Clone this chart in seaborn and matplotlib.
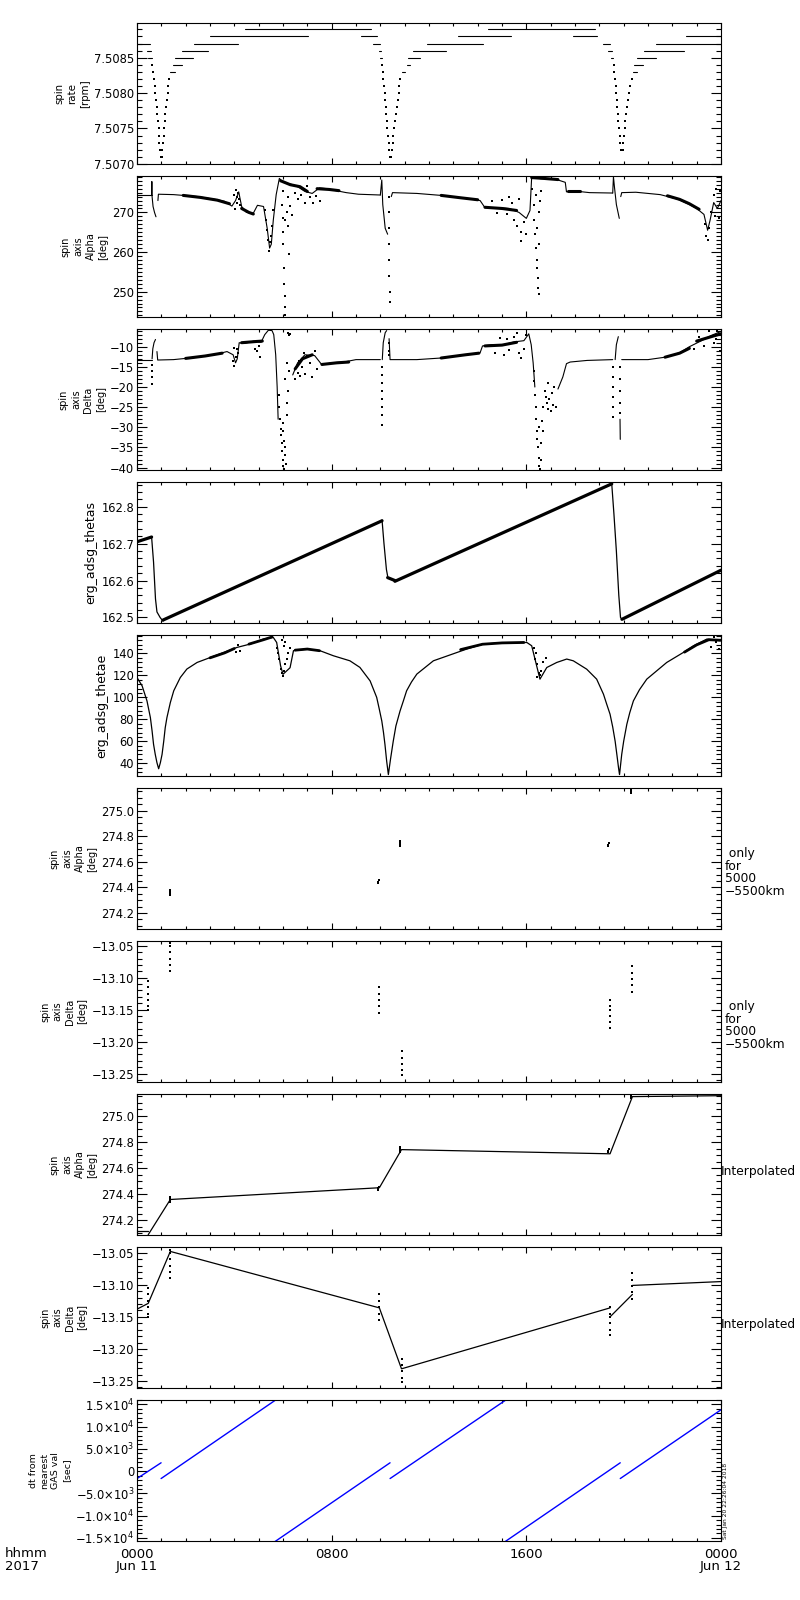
import matplotlib
matplotlib.use("Agg")
import matplotlib.pyplot as plt
import pandas as pd
import seaborn as sns
from matplotlib.ticker import MultipleLocator, FixedLocator, FixedFormatter, FuncFormatter

# ===================== DATA (time in hours since 2017-06-11 00:00) =====================
# ---- Panel 1: spin rate [rpm]; quantised plateau segments ----
rate_seg_start = [0.00, 0.40, 0.45, 1.34, 1.49, 1.56, 1.84, 2.34, 3.00, 4.44,
                  9.21, 9.71, 9.93, 9.99, 10.88, 11.08, 11.15, 11.33, 11.91, 13.18, 14.41,
                  17.91, 19.17, 19.37, 19.47, 20.37, 20.44, 20.54, 20.85, 21.33, 22.55]
rate_seg_end = [0.55, 0.58, 0.62, 1.56, 1.84, 2.29, 2.93, 4.14, 7.04, 9.62,
                9.85, 9.99, 10.02, 10.06, 11.02, 11.22, 11.63, 12.69, 14.21, 15.37, 18.83,
                18.90, 19.44, 19.51, 19.58, 20.56, 20.81, 21.33, 22.48, 24.00, 24.00]
rate_seg_level = [7.5087, 7.5086, 7.5085, 7.5083, 7.5084, 7.5085, 7.5086, 7.5087, 7.5088, 7.5089,
                  7.5088, 7.5087, 7.5086, 7.5085, 7.5083, 7.5084, 7.5085, 7.5086, 7.5087, 7.5088, 7.5089,
                  7.5088, 7.5087, 7.5086, 7.5085, 7.5083, 7.5084, 7.5085, 7.5086, 7.5087, 7.5088]
# perigee dips (single samples)
rate_dip_t = [0.60, 0.67, 0.70, 0.74, 0.75, 0.78, 0.81, 0.84, 0.86, 0.89, 0.90, 0.92, 0.95, 0.99,
              1.01, 1.04, 1.08, 1.10, 1.11, 1.14, 1.15, 1.18, 1.22, 1.26, 1.29, 1.33,
              10.07, 10.10, 10.13, 10.15, 10.18, 10.19, 10.22, 10.25, 10.28, 10.29, 10.32, 10.34, 10.37, 10.40,
              10.44, 10.47, 10.51, 10.54, 10.56, 10.60, 10.63, 10.67, 10.71, 10.75, 10.78, 10.81,
              19.59, 19.62, 19.65, 19.67, 19.70, 19.73, 19.74, 19.77, 19.78, 19.81, 19.84, 19.86, 19.89,
              19.96, 19.99, 20.02, 20.04, 20.07, 20.10, 20.13, 20.17, 20.21, 20.26, 20.33]
rate_dip_v = [7.5084, 7.5083, 7.5082, 7.5081, 7.5080, 7.5079, 7.5078, 7.5077, 7.5076, 7.5075, 7.5074, 7.5073, 7.5072, 7.5071,
              7.5071, 7.5072, 7.5073, 7.5074, 7.5075, 7.5076, 7.5077, 7.5078, 7.5079, 7.5080, 7.5081, 7.5082,
              7.5084, 7.5083, 7.5082, 7.5081, 7.5080, 7.5079, 7.5078, 7.5077, 7.5076, 7.5075, 7.5074, 7.5073, 7.5072, 7.5071,
              7.5071, 7.5072, 7.5073, 7.5074, 7.5075, 7.5076, 7.5077, 7.5078, 7.5079, 7.5080, 7.5081, 7.5082,
              7.5084, 7.5083, 7.5082, 7.5081, 7.5080, 7.5079, 7.5078, 7.5077, 7.5076, 7.5075, 7.5074, 7.5073, 7.5072,
              7.5072, 7.5073, 7.5074, 7.5075, 7.5076, 7.5077, 7.5078, 7.5079, 7.5080, 7.5081, 7.5082]

# ---- Panel 2: spin axis Alpha [deg] ----
alpha_trace = [
    ([0.00, 0.60], [274.4, 274.4]),
    ([0.60, 0.61, 0.62, 0.66, 0.72, 0.78], [274.4, 277.8, 274.0, 271.5, 270.0, 268.9]),
    ([0.86, 0.88, 1.50, 2.50, 3.30, 3.60, 3.90, 4.05, 4.18, 4.30, 4.50, 4.78, 4.95, 5.20, 5.35, 5.45,
      5.52, 5.60, 5.72, 5.85, 6.00, 6.30, 6.60, 6.90, 7.20, 7.50, 7.80, 8.10, 8.60, 9.10, 10.00],
     [273.0, 274.6, 274.5, 274.0, 273.2, 272.8, 271.6, 273.0, 275.2, 271.5, 270.0, 269.8, 271.8, 271.5, 266.0, 261.0,
      262.0, 268.0, 274.5, 278.6, 277.6, 277.2, 276.5, 275.3, 274.8, 276.2, 276.0, 275.6, 275.0, 274.6, 274.4]),
    ([10.00, 10.06, 10.10, 10.20, 10.30], [274.4, 278.2, 272.0, 266.0, 264.5]),
    ([10.45, 10.50, 11.50, 12.50, 13.50, 14.10, 14.30, 14.80, 15.30, 15.70, 16.00, 16.15, 16.22, 16.60,
      17.20, 17.60, 17.65, 18.00, 18.60, 19.55],
     [274.0, 275.0, 274.8, 274.3, 273.6, 273.0, 271.2, 271.2, 271.0, 270.0, 268.5, 270.5, 279.0, 278.5,
      278.4, 277.6, 275.2, 275.4, 275.0, 274.9]),
    ([19.55, 19.58, 19.62, 19.70, 19.82], [274.9, 279.0, 276.5, 272.0, 268.5]),
    ([19.88, 19.92, 20.50, 21.50, 22.20, 22.70, 23.00, 23.30, 23.45, 23.55, 23.70, 23.85, 24.00],
     [274.0, 275.0, 275.1, 274.5, 273.4, 272.0, 271.0, 269.5, 265.5, 268.0, 272.5, 271.0, 273.0]),
]
alpha_band = [
    ([1.9, 2.6, 3.3, 3.8], [274.3, 273.8, 273.1, 272.2]),
    ([4.3, 4.6, 4.78], [271.0, 270.0, 269.6]),
    ([5.9, 6.3, 6.7, 7.0], [278.0, 277.0, 276.5, 275.3]),
    ([7.4, 7.9, 8.3], [276.0, 275.8, 275.5]),
    ([12.5, 13.3, 14.0], [274.3, 273.7, 273.2]),
    ([14.3, 15.0, 15.6], [271.3, 271.0, 270.5]),
    ([16.22, 16.7, 17.3], [278.8, 278.6, 278.3]),
    ([17.7, 18.2], [275.3, 275.3]),
    ([21.8, 22.3, 22.7, 23.1], [274.2, 273.3, 272.2, 270.8]),
]
alpha_dot_t = [4.00, 4.05, 4.10, 4.12, 4.15, 4.20, 4.25, 4.02,
               5.30, 5.35, 5.40, 5.42, 5.46, 5.50, 5.55, 5.25, 5.60,
               5.95, 5.98, 6.00, 6.02, 6.04, 6.05, 6.07, 6.08, 6.10, 6.10, 6.15, 6.20, 6.25, 6.30, 6.35, 6.00, 6.20,
               6.50, 6.60, 6.75, 6.90, 7.00, 7.10, 7.25, 7.35, 7.50,
               10.35, 10.35, 10.36, 10.36, 10.37, 10.37, 10.38, 10.38,
               14.60, 14.80, 15.00, 15.20, 15.40, 15.50, 15.60, 15.70, 15.80, 15.90, 16.00, 15.30, 15.80,
               16.25, 16.30, 16.33, 16.36, 16.40, 16.42, 16.45, 16.47, 16.48, 16.50, 16.45, 16.50, 16.55, 16.60, 16.40, 16.52,
               23.35, 23.40, 23.45, 23.50, 23.60, 23.70, 23.80, 23.90, 23.95, 23.75]
alpha_dot_v = [274.5, 275.6, 274.0, 272.5, 275.0, 273.3, 272.0, 270.9,
               268.0, 265.5, 263.0, 260.3, 262.5, 264.0, 266.5, 270.5, 270.5,
               272.0, 268.5, 265.0, 262.0, 256.0, 252.0, 249.0, 246.0, 244.2, 268.0, 270.0, 266.5, 259.5, 271.5, 269.3, 275.5, 274.0,
               275.0, 273.5, 274.5, 272.5, 276.8, 273.8, 272.4, 274.2, 273.0,
               274.0, 270.0, 266.0, 262.0, 258.0, 254.0, 250.0, 247.5,
               272.8, 269.8, 273.2, 269.5, 272.5, 268.0, 266.5, 273.5, 265.0, 267.5, 264.5, 274.0, 262.8,
               276.0, 272.0, 268.0, 264.5, 261.0, 258.0, 256.0, 253.5, 251.0, 249.5, 266.0, 270.0, 273.0, 275.5, 274.5, 262.0,
               267.0, 264.0, 263.0, 266.0, 270.0, 274.5, 276.0, 268.5, 275.5, 269.0]

# ---- Panel 3: spin axis Delta [deg] ----
delta_trace = [
    ([0.00, 0.60], [-13.2, -13.2]),
    ([0.62, 0.65, 0.70, 0.76], [-13.0, -10.5, -9.0, -8.2]),
    ([0.82, 0.85, 1.50, 2.50, 3.30, 3.70, 3.95, 4.05, 4.12, 4.20, 4.40, 4.80, 5.10, 5.25, 5.40, 5.55,
      5.62, 5.70, 5.76, 5.80],
     [-11.2, -13.3, -13.2, -12.6, -11.8, -11.2, -12.0, -14.0, -13.0, -9.0, -9.2, -8.6, -8.9, -7.0, -5.9, -6.0,
      -7.0, -12.0, -20.0, -28.0]),
    ([6.40, 6.60, 6.90, 7.30, 7.60, 8.00, 8.50, 9.00, 10.00],
     [-17.0, -14.0, -12.0, -12.2, -14.5, -14.0, -13.8, -13.2, -13.2]),
    ([10.08, 10.12, 10.20, 10.26], [-13.2, -9.0, -6.5, -6.0]),
    ([10.36, 10.40, 11.50, 12.50, 13.50, 14.10, 14.20, 14.60, 15.00, 15.50, 15.90, 16.10, 16.20, 16.28, 16.35],
     [-8.0, -13.2, -13.2, -12.8, -12.0, -11.5, -9.8, -9.5, -9.6, -8.8, -8.5, -6.8, -9.5, -14.0, -20.0]),
    ([17.30, 17.50, 17.65, 17.80, 18.50, 19.55], [-20.5, -17.5, -14.2, -13.8, -13.4, -13.2]),
    ([19.65, 19.70, 19.78], [-13.2, -9.5, -7.5]),
    ([19.85, 19.86], [-28.0, -33.0]),
    ([19.92, 21.00, 21.70, 22.30, 22.70, 23.20, 23.60, 24.00],
     [-13.2, -13.2, -12.6, -11.5, -10.0, -8.5, -7.2, -6.2]),
]
delta_band = [
    ([2.0, 2.8, 3.5], [-12.9, -12.3, -11.6]),
    ([4.3, 4.9, 5.15], [-9.0, -8.7, -8.6]),
    ([6.5, 6.8, 7.2], [-15.5, -13.0, -12.0]),
    ([7.6, 8.2, 8.7], [-14.4, -14.0, -13.8]),
    ([12.5, 13.5, 14.05], [-12.8, -12.0, -11.6]),
    ([14.3, 15.0, 15.6], [-9.8, -9.6, -8.9]),
    ([21.7, 22.3, 22.7], [-12.6, -11.6, -10.4]),
    ([23.0, 23.6, 24.0], [-8.6, -7.5, -6.8]),
]
delta_dot_t = [0.61, 0.61, 0.61, 0.61,
               3.95, 4.00, 4.05, 4.10, 4.15, 4.00,
               4.85, 4.95, 5.05, 5.00,
               5.82, 5.85, 5.88, 5.90, 5.92, 5.95, 5.97, 6.00, 6.02, 6.05, 6.08, 6.10, 6.12, 5.98, 6.05, 6.00,
               6.15, 6.18, 6.20, 6.10, 6.25, 6.15, 6.22, 6.25, 6.28,
               6.50, 6.60, 6.70, 6.80, 6.90, 7.00, 7.10, 7.20, 7.30, 7.40, 6.85, 6.65,
               10.05, 10.05, 10.05, 10.06, 10.06, 10.06, 10.07, 10.07,
               10.34, 10.35, 10.36,
               14.70, 14.90, 15.10, 15.30, 15.50, 15.70, 15.80, 15.90, 16.00, 15.60, 15.20,
               16.30, 16.32, 16.35, 16.38, 16.40, 16.42, 16.45, 16.47, 16.50, 16.52, 16.55, 16.60, 16.50, 16.60,
               16.65, 16.70, 16.75, 16.80, 16.85, 16.90, 16.95, 17.00, 17.05, 17.10, 17.15, 17.20, 16.90, 16.70,
               19.58, 19.58, 19.58, 19.58, 19.58, 19.58,
               19.84, 19.84, 19.85, 19.85, 19.85,
               22.90, 23.10, 23.30, 23.50, 23.70, 23.85, 23.95, 23.80]
delta_dot_v = [-14.5, -16.0, -17.5, -19.3,
               -13.5, -14.8, -12.5, -10.5, -11.5, -10.2,
               -10.5, -11.0, -12.5, -9.8,
               -22.0, -25.0, -28.0, -30.5, -32.0, -34.0, -36.0, -38.0, -39.5, -40.3, -37.0, -35.0, -39.0, -31.0, -33.5, -29.0,
               -27.0, -24.0, -21.0, -18.0, -16.0, -14.0, -6.5, -7.0, -6.8,
               -18.0, -16.5, -17.2, -15.0, -16.8, -12.3, -14.0, -17.5, -11.0, -15.5, -11.5, -13.5,
               -15.0, -17.0, -19.0, -21.0, -23.0, -25.0, -27.0, -29.5,
               -9.0, -11.0, -12.0,
               -11.5, -7.8, -12.0, -10.8, -7.5, -11.5, -12.8, -10.5, -7.2, -6.6, -8.0,
               -16.0, -18.5, -22.0, -25.0, -28.0, -31.0, -33.0, -35.0, -37.5, -39.5, -40.3, -38.0, -30.0, -34.0,
               -28.5, -25.0, -21.0, -22.5, -24.0, -25.5, -23.0, -26.0, -21.5, -24.5, -20.0, -25.0, -19.0, -31.0,
               -15.0, -17.5, -20.0, -22.5, -25.0, -27.5,
               -15.0, -18.0, -21.0, -24.0, -26.5,
               -10.5, -7.5, -9.8, -6.2, -9.0, -6.0, -11.0, -8.0]

# ---- Panel 4: erg_adsg_thetas ----
thetas_band = [
    ([0.00, 0.60], [162.705, 162.718]),
    ([1.07, 10.07], [162.493, 162.762]),
    ([10.30, 10.60], [162.608, 162.600]),
    ([10.60, 19.51], [162.598, 162.862]),
    ([19.93, 24.00], [162.495, 162.628]),
]
thetas_drop = [
    ([0.60, 0.68, 0.76, 0.82, 0.95, 1.07], [162.718, 162.650, 162.550, 162.515, 162.500, 162.490]),
    ([10.07, 10.15, 10.25, 10.30], [162.764, 162.700, 162.630, 162.612]),
    ([19.51, 19.60, 19.70, 19.80, 19.87, 19.93], [162.862, 162.780, 162.680, 162.560, 162.500, 162.495]),
]

# ---- Panel 5: erg_adsg_thetae ----
thetae_t = [0.00, 0.21, 0.41, 0.55, 0.62, 0.68, 0.75, 0.82, 0.89, 0.96, 1.03, 1.10, 1.16, 1.23, 1.37, 1.51,
            1.78, 2.05, 2.47, 3.01, 3.56, 4.11, 4.66, 5.19, 5.60, 5.74, 5.90, 6.00, 6.29, 6.43, 6.97, 7.52,
            8.07, 8.75, 9.16, 9.58, 9.85, 9.95, 10.06, 10.13, 10.19, 10.26, 10.33, 10.42, 10.53, 10.64, 10.81,
            10.95, 11.08, 11.28, 11.50, 12.18, 13.55, 14.24, 14.92, 16.02, 16.22, 16.56, 16.84, 17.25, 17.66,
            17.93, 18.48, 18.89, 19.17, 19.30, 19.44, 19.55, 19.65, 19.72, 19.79, 19.83, 19.92, 20.00, 20.13,
            20.25, 20.40, 20.65, 20.95, 21.77, 22.46, 22.87, 23.42, 23.96]
thetae_v = [118.1, 110.5, 96.8, 81.6, 69.4, 57.3, 48.1, 40.5, 35.0, 40.5, 48.1, 60.3, 72.4, 81.6, 95.3, 106.0,
            118.1, 125.8, 131.8, 136.3, 140.9, 145.5, 148.6, 153.1, 154.6, 150.0, 128.8, 121.0, 127.0, 142.5, 144.0, 142.5,
            137.9, 133.3, 127.3, 115.0, 100.0, 90.0, 78.5, 68.0, 57.1, 42.0, 29.7, 44.0, 60.0, 74.0, 87.6,
            97.0, 106.0, 114.0, 121.2, 133.3, 144.0, 148.6, 149.5, 150.0, 147.0, 116.6, 127.2, 131.8, 134.9,
            133.3, 125.7, 116.6, 102.9, 94.0, 84.7, 73.0, 60.0, 48.0, 35.7, 29.7, 48.1, 60.0, 75.5,
            86.0, 96.8, 107.0, 116.6, 131.8, 141.0, 147.0, 153.1, 151.7]
thetae_band = [
    ([3.0, 3.6, 4.0], [136.0, 140.5, 144.5]),
    ([4.6, 5.2, 5.55], [148.5, 152.5, 155.0]),
    ([6.5, 7.0, 7.5], [143.0, 144.0, 142.5]),
    ([13.3, 14.2, 15.0, 15.9], [143.5, 148.4, 149.6, 150.0]),
    ([22.5, 23.0, 23.5, 24.0], [141.2, 147.8, 152.5, 152.0]),
]
thetae_dot_t = [5.75, 5.80, 5.85, 5.90, 5.95, 6.00, 6.05, 6.10, 6.15, 6.20, 6.05, 6.10, 5.95, 6.30,
                16.30, 16.40, 16.45, 16.50, 16.55, 16.60, 16.70, 16.80, 16.45, 16.35,
                23.60, 23.80, 23.90, 23.70, 4.05, 4.15, 4.25]
thetae_dot_v = [145.0, 140.0, 135.0, 126.0, 122.0, 119.6, 124.0, 130.0, 135.0, 140.0, 147.0, 150.5, 152.0, 145.0,
                145.0, 140.0, 130.0, 122.0, 120.0, 124.0, 132.0, 136.0, 118.5, 135.0,
                146.0, 150.0, 144.0, 155.0, 141.0, 147.5, 142.5]

# ---- Panels 6/8: spin axis Alpha only for 5000-5500 km (short vertical dashes) ----
alpha_gas_t = [1.36, 1.36, 1.36, 1.37, 9.92, 9.92, 9.93, 10.80, 10.80, 10.80, 10.81,
               19.37, 19.37, 19.38, 20.30, 20.30, 20.31]
alpha_gas_v = [274.34, 274.355, 274.37, 274.38, 274.435, 274.445, 274.455, 274.72, 274.735, 274.75, 274.765,
               274.72, 274.73, 274.745, 275.14, 275.155, 275.17]
# ---- Panels 7/9: spin axis Delta only for 5000-5500 km (dotted verticals) ----
delta_gas_t = [0.46, 0.46, 0.46, 0.46, 0.46, 0.46,
               1.37, 1.37, 1.37, 1.37, 1.37, 1.37,
               9.96, 9.96, 9.96, 9.96, 9.96,
               10.87, 10.87, 10.87, 10.87, 10.87,
               19.44, 19.44, 19.44, 19.44, 19.44, 19.44,
               20.36, 20.36, 20.36, 20.36, 20.36]
delta_gas_v = [-13.105, -13.115, -13.125, -13.135, -13.145, -13.150,
               -13.045, -13.050, -13.060, -13.070, -13.080, -13.090,
               -13.115, -13.125, -13.135, -13.145, -13.155,
               -13.215, -13.225, -13.235, -13.245, -13.252,
               -13.135, -13.145, -13.150, -13.160, -13.170, -13.178,
               -13.082, -13.092, -13.102, -13.112, -13.122]

# ---- Panel 8: interpolated Alpha ----
alpha_interp = [
    ([0.00, 0.46], [274.115, 274.115]),
    ([0.46, 1.37, 9.96, 10.87, 19.44, 20.36, 24.00], [274.090, 274.360, 274.450, 274.742, 274.710, 275.148, 275.155]),
]
# ---- Panel 9: interpolated Delta ----
delta_interp = [
    ([0.00, 0.46, 1.37, 9.96, 10.87, 19.44], [-13.138, -13.129, -13.048, -13.136, -13.231, -13.136]),
    ([19.44, 20.36], [-13.150, -13.115]),
    ([20.36, 24.00], [-13.101, -13.095]),
]
# ---- Panel 10: dt from nearest GAS val [sec] ----
dt_pieces = [
    ([0.00, 0.99], [-1660, 1885]),
    ([0.99, 5.67], [-1660, 15900]),
    ([5.67, 10.40], [-15830, 1885]),
    ([10.40, 15.13], [-1660, 15900]),
    ([15.13, 19.86], [-15830, 1885]),
    ([19.86, 24.00], [-1660, 13800]),
]

x_tick_hours = [0, 8, 16, 24]
x_tick_labels = ["0000\nJun 11", "0800", "1600", "0000\nJun 12"]
dt_tick_vals = [-15000, -10000, -5000, 0, 5000, 10000, 15000]
dt_tick_labels = [r"$-1.5{\times}10^{4}$", r"$-1.0{\times}10^{4}$", r"$-5.0{\times}10^{3}$", "0",
                  r"$5.0{\times}10^{3}$", r"$1.0{\times}10^{4}$", r"$1.5{\times}10^{4}$"]

# ===================== STYLE =====================
sns.set_theme(style="ticks")
plt.rcParams.update({
    "font.family": ["DejaVu Sans"],
    "axes.linewidth": 0.8,
    "axes.edgecolor": "black",
    "xtick.color": "black",
    "ytick.color": "black",
    "text.color": "black",
    "axes.labelcolor": "black",
    "axes.facecolor": "white",
    "figure.facecolor": "white",
})

fig, axes = plt.subplots(10, 1, figsize=(8, 16), dpi=100, sharex=True)
fig.subplots_adjust(left=137 / 800, right=721 / 800, top=1 - 23 / 1600, bottom=1 - 1541 / 1600,
                    hspace=12 / 141)


def draw_pieces(ax, pieces, lw, color="black"):
    rows = []
    for k, (t, v) in enumerate(pieces):
        for ti, vi in zip(t, v):
            rows.append((k, ti, vi))
    df = pd.DataFrame(rows, columns=["piece", "t", "v"])
    sns.lineplot(data=df, x="t", y="v", units="piece", estimator=None, sort=False,
                 color=color, linewidth=lw, ax=ax, legend=False)


def draw_dots(ax, t, v, s=1.0):
    sns.scatterplot(x=t, y=v, ax=ax, color="black", s=s, marker="s", linewidth=0, legend=False)


def minus(fmt):
    return FuncFormatter(lambda x, p: (fmt % x).replace("-", "\u2212"))


ML_FS = 7.0   # multi-line y label size
ML_LS = 1.3

# Panel 1
ax = axes[0]
draw_pieces(ax, [([s, e], [l, l]) for s, e, l in zip(rate_seg_start, rate_seg_end, rate_seg_level)], 0.8)
draw_dots(ax, rate_dip_t, rate_dip_v)
ax.set_ylim(7.506998, 7.50899)
ax.yaxis.set_major_locator(FixedLocator([7.5070, 7.5075, 7.5080, 7.5085]))
ax.yaxis.set_minor_locator(MultipleLocator(0.0001))
ax.yaxis.set_major_formatter(minus("%.4f"))
ax.set_ylabel("spin\nrate\n[rpm]", fontsize=7.4, linespacing=ML_LS)

# Panel 2
ax = axes[1]
draw_pieces(ax, alpha_trace, 0.8)
draw_pieces(ax, alpha_band, 2.2)
draw_dots(ax, alpha_dot_t, alpha_dot_v)
ax.set_ylim(243.6, 279.2)
ax.yaxis.set_major_locator(FixedLocator([250, 260, 270]))
ax.yaxis.set_minor_locator(MultipleLocator(1))
ax.yaxis.set_major_formatter(minus("%d"))
ax.set_ylabel("spin\naxis\nAlpha\n[deg]", fontsize=ML_FS, linespacing=ML_LS)

# Panel 3
ax = axes[2]
draw_pieces(ax, delta_trace, 0.8)
draw_pieces(ax, delta_band, 2.2)
draw_dots(ax, delta_dot_t, delta_dot_v)
ax.set_ylim(-40.6, -5.6)
ax.yaxis.set_major_locator(FixedLocator([-40, -35, -30, -25, -20, -15, -10]))
ax.yaxis.set_minor_locator(MultipleLocator(1))
ax.yaxis.set_major_formatter(minus("%d"))
ax.set_ylabel("spin\naxis\nDelta\n[deg]", fontsize=ML_FS, linespacing=ML_LS)

# Panel 4
ax = axes[3]
draw_pieces(ax, thetas_band, 2.3)
draw_pieces(ax, thetas_drop, 0.9)
ax.set_ylim(162.485, 162.867)
ax.yaxis.set_major_locator(FixedLocator([162.5, 162.6, 162.7, 162.8]))
ax.yaxis.set_minor_locator(MultipleLocator(0.02))
ax.yaxis.set_major_formatter(minus("%.1f"))
ax.set_ylabel("erg_adsg_thetas", fontsize=9)

# Panel 5
ax = axes[4]
draw_pieces(ax, [(thetae_t, thetae_v)], 0.9)
draw_pieces(ax, thetae_band, 2.0)
draw_dots(ax, thetae_dot_t, thetae_dot_v)
ax.set_ylim(28.4, 156.8)
ax.yaxis.set_major_locator(FixedLocator([40, 60, 80, 100, 120, 140]))
ax.yaxis.set_minor_locator(MultipleLocator(4))
ax.yaxis.set_major_formatter(minus("%d"))
ax.set_ylabel("erg_adsg_thetae", fontsize=9)

# Panel 6
ax = axes[5]
draw_dots(ax, alpha_gas_t, alpha_gas_v, s=1.6)
ax.set_ylim(274.075, 275.177)
ax.set_ylabel("spin\naxis\nAlpha\n[deg]", fontsize=ML_FS, linespacing=ML_LS)
ax.text(1.006, 0.40, " only\nfor\n5000\n\u22125500km", transform=ax.transAxes, ha="left", va="center",
        fontsize=8.8, linespacing=0.95)

# Panel 7
ax = axes[6]
draw_dots(ax, delta_gas_t, delta_gas_v, s=1.0)
ax.set_ylim(-13.2632, -13.0426)
ax.set_ylabel("spin\naxis\nDelta\n[deg]", fontsize=ML_FS, linespacing=ML_LS)
ax.text(1.006, 0.40, " only\nfor\n5000\n\u22125500km", transform=ax.transAxes, ha="left", va="center",
        fontsize=8.8, linespacing=0.95)

# Panel 8
ax = axes[7]
draw_pieces(ax, alpha_interp, 0.9)
draw_dots(ax, alpha_gas_t, alpha_gas_v, s=1.2)
ax.set_ylim(274.088, 275.168)
ax.set_ylabel("spin\naxis\nAlpha\n[deg]", fontsize=ML_FS, linespacing=ML_LS)
ax.text(1.0, 0.45, "Interpolated", transform=ax.transAxes, ha="left", va="center", fontsize=8.8)

# Panel 9
ax = axes[8]
draw_pieces(ax, delta_interp, 0.9)
draw_dots(ax, delta_gas_t, delta_gas_v, s=1.0)
ax.set_ylim(-13.2609, -13.0411)
ax.set_ylabel("spin\naxis\nDelta\n[deg]", fontsize=ML_FS, linespacing=ML_LS)
ax.text(1.0, 0.45, "Interpolated", transform=ax.transAxes, ha="left", va="center", fontsize=8.8)

for ax in (axes[5], axes[7]):
    ax.yaxis.set_major_locator(FixedLocator([274.2, 274.4, 274.6, 274.8, 275.0]))
    ax.yaxis.set_minor_locator(MultipleLocator(0.05))
    ax.yaxis.set_major_formatter(minus("%.1f"))
for ax in (axes[6], axes[8]):
    ax.yaxis.set_major_locator(FixedLocator([-13.25, -13.20, -13.15, -13.10, -13.05]))
    ax.yaxis.set_minor_locator(MultipleLocator(0.01))
    ax.yaxis.set_major_formatter(minus("%.2f"))

# Panel 10
ax = axes[9]
draw_pieces(ax, dt_pieces, 1.0, color="#0000ff")
ax.set_ylim(-15700, 16000)
ax.yaxis.set_major_locator(FixedLocator(dt_tick_vals))
ax.yaxis.set_major_formatter(FixedFormatter(dt_tick_labels))
ax.yaxis.set_minor_locator(MultipleLocator(1000))
ax.set_ylabel("dt from\nnearest\nGAS val\n[sec]", fontsize=6.8, linespacing=ML_LS)

# common axis styling
for ax in axes:
    ax.set_xlim(0, 24)
    ax.set_xlabel("")
    ax.xaxis.set_major_locator(FixedLocator(x_tick_hours))
    ax.xaxis.set_minor_locator(MultipleLocator(1))
    ax.tick_params(axis="x", which="major", direction="in", length=4.5, width=0.8, top=True, bottom=True,
                   labelbottom=False)
    ax.tick_params(axis="x", which="minor", direction="in", length=2.2, width=0.8, top=True, bottom=True)
    ax.tick_params(axis="y", which="major", direction="in", length=7.0, width=0.8, left=True, right=True,
                   labelsize=8.3, pad=2)
    ax.tick_params(axis="y", which="minor", direction="in", length=3.5, width=0.8, left=True, right=True)
    ax.yaxis.labelpad = 3
    for sp in ax.spines.values():
        sp.set_visible(True)
        sp.set_color("black")
        sp.set_linewidth(0.8)

axes[-1].xaxis.set_major_formatter(FixedFormatter(x_tick_labels))
axes[-1].tick_params(axis="x", which="major", labelbottom=True, labelsize=9.5, pad=5)
for lbl in axes[-1].get_xticklabels():
    lbl.set_linespacing(0.95)

fig.text(5 / 800, 1 - 1547 / 1600, "hhmm\n2017", ha="left", va="top", fontsize=9.5, linespacing=0.95)
fig.text(723 / 800, 1 - 1539 / 1600, "Sat Jan 20 22:26:04 2018", rotation=90, ha="left", va="bottom",
         fontsize=4.3)

fig.savefig("out.png", dpi=100, facecolor="white")
